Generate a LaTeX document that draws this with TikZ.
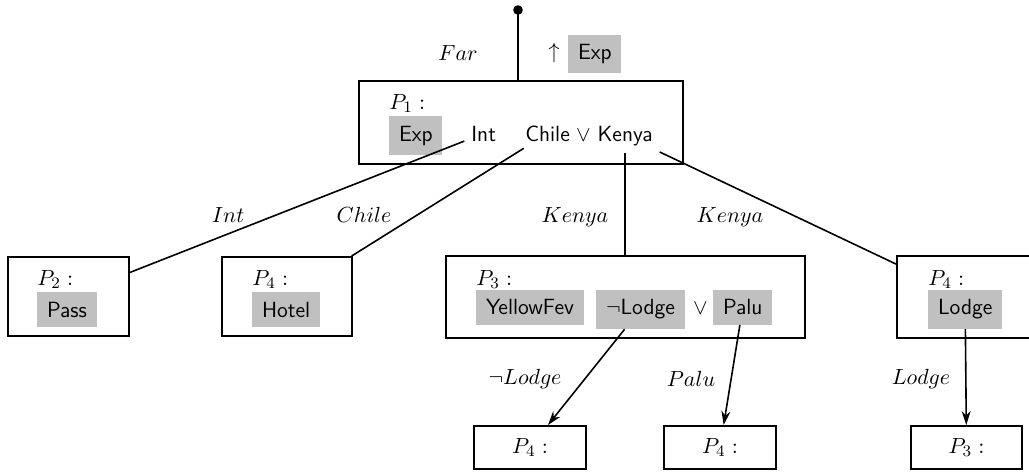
\documentclass[tikz,border=0pt]{standalone}
\usetikzlibrary{arrows.meta}
\definecolor{hlgray}{RGB}{192,192,192}
\newcommand\myfs{\fontsize{11}{13.2}\selectfont}
\begin{document}
\begin{tikzpicture}[x=0.5pt,y=-0.5pt,
  every node/.style={font=\myfs},
  pbox/.style={draw,line width=1pt,inner sep=0pt},
  hl/.style={fill=hlgray,inner sep=4.8pt,font=\myfs\sffamily,anchor=base west},
  txt/.style={font=\myfs\sffamily},
  plab/.style={inner sep=0pt,anchor=base west},
  elab/.style={inner sep=0pt},
  conn/.style={line width=0.8pt},
  arr/.style={line width=0.8pt,-{Stealth[length=7pt,width=4.5pt]}}]
\useasboundingbox (0,0) rectangle (1029,472);
% boxes
\node[pbox,minimum width=162pt,minimum height=41.5pt] (p1) at (521,122.5) {};
\node[pbox,minimum width=60.5pt,minimum height=39.5pt] (p2) at (68.5,296.5) {};
\node[pbox,minimum width=65pt,minimum height=39.5pt] (p4h) at (287,296.5) {};
\node[pbox,minimum width=179.5pt,minimum height=41pt] (p3) at (625,297) {};
\node[pbox,minimum width=68.5pt,minimum height=41pt] (p4r) at (965.5,297) {};
\node[pbox,minimum width=56pt,minimum height=21.5pt] (b1) at (530,447.5) {$P_4:$};
\node[pbox,minimum width=56pt,minimum height=21.5pt] (b2) at (720,447.5) {$P_4:$};
\node[pbox,minimum width=55.5pt,minimum height=21.5pt] (b3) at (966.5,447.5) {$P_3:$};
% P1 content
\node[plab] (l1) at (389,109) {$P_1:$};
\node[hl] (exp1) at (389,141) {Exp};
\node[txt,anchor=base west] (int) at (464.3,141) {Int};
\node[txt,anchor=base west] (chile) at (518.3,141) {Chile};
\node[txt,anchor=base] (or1) at (583.3,141) {$\vee$};
\node[txt,anchor=base east] (kenya) at (659.7,141) {Kenya};
% P2
\node[plab] (l2) at (37,285) {$P_2:$};
\node[hl] (pass) at (37,317) {Pass};
% P4 hotel
\node[plab] (l4h) at (252,285) {$P_4:$};
\node[hl] (hotel) at (252,317) {Hotel};
% P3
\node[plab] (l3) at (476,285) {$P_3:$};
\node[hl] (yf) at (476,314.7) {YellowFev};
\node[hl] (nl) at (596,314.7) {$\neg$Lodge};
\node[txt,anchor=base] (or2) at (700.5,314.7) {$\vee$};
\node[hl] (palu) at (713,314.7) {Palu};
% P4 right
\node[plab] (l4r) at (928,285) {$P_4:$};
\node[hl] (lodge) at (928,314.7) {Lodge};
% top
\coordinate (top) at (518,10);
\fill (top) circle[radius=2.4pt];
\draw[conn] (top) -- (top |- p1.north);
\node[elab] (far) at (458,53) {$Far$};
\node[elab] (up) at (554,53) {$\uparrow$};
\node[hl] (exp0) at (568,59.5) {Exp};
% connectors
\draw[conn] (int) -- (p2);
\draw[conn] (chile) -- (p4h);
\draw[conn] (p3.north) -- (p3.north |- kenya.south);
\draw[conn] (kenya) -- (p4r);
\draw[arr] (nl) -- (b1);
\draw[arr] (palu) -- (b2);
\draw[arr] (lodge) -- (b3);
% edge labels
\node[elab] (eint) at (228,215) {$Int$};
\node[elab] (echile) at (364,215) {$Chile$};
\node[elab] (ekenya1) at (575,217) {$Kenya$};
\node[elab] (ekenya2) at (730,217) {$Kenya$};
\node[elab] (enl) at (525,379) {$\neg Lodge$};
\node[elab] (epalu) at (691,379) {$Palu$};
\node[elab] (elodge) at (921,379) {$Lodge$};
\end{tikzpicture}
\end{document}
